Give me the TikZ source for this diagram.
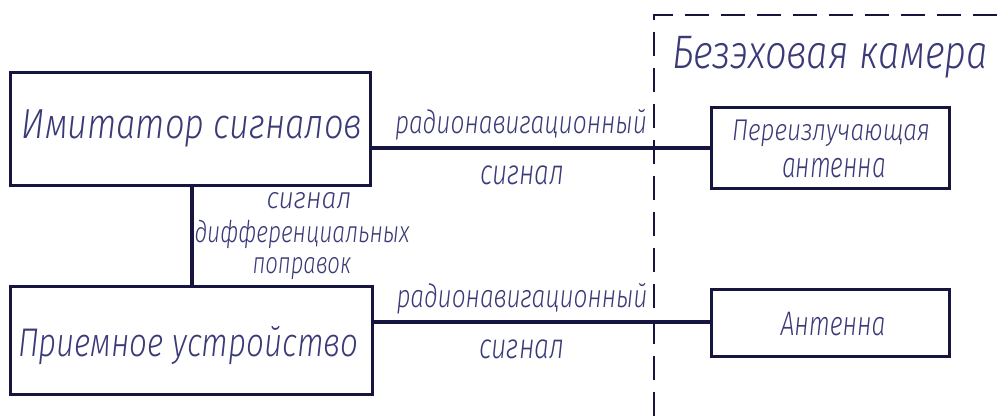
\documentclass[tikz,border=0pt]{standalone}
\usepackage{fontspec}
\usepackage{graphicx}
\setmainfont{Fira Sans}[UprightFont=* Light, ItalicFont=* Light Italic]
\definecolor{inkline}{HTML}{15153F}
\definecolor{inktext}{HTML}{3A3A78}
\newsavebox\fitbox
\newcommand\fitw[3]{\sbox\fitbox{\fontsize{#1pt}{#1pt}\selectfont\itshape #3}\pgfmathsetmacro\fx{#2/\wd\fitbox}\scalebox{\fx}[1]{\usebox\fitbox}}
\begin{document}
\begin{tikzpicture}[x=1pt,y=-1pt,
  blk/.style={draw=inkline,line width=3pt,minimum height=0pt,inner sep=0pt},
  conn/.style={draw=inkline,line width=3.2pt},
  txt/.style={text=inktext,inner sep=0pt,anchor=base},
  wall/.style={draw=inkline,line width=2.8pt,dash pattern=on 24pt off 12pt}]
\useasboundingbox (0,0) rectangle (1003,416);
% blocks
\node[blk,minimum width=360pt,minimum height=113pt] (imit) at (190,128.5) {};
\node[blk,minimum width=362pt,minimum height=108pt] (recv) at (191,340) {};
\node[blk,minimum width=238pt,minimum height=81pt] (reant) at (830,147.5) {};
\node[blk,minimum width=238pt,minimum height=67pt] (ant) at (830,322.5) {};
% chamber wall
\coordinate (wb) at (654,416);
\coordinate (wc) at (654,15);
\coordinate (wr) at (1003,15);
\draw[wall] (wb) -- (wc) -- (wr);
% connectors
\draw[conn] (imit.east |- 0,148) -- (reant.west |- 0,148);
\draw[conn] (recv.east |- 0,322) -- (ant.west |- 0,322);
\draw[conn] (imit.south -| 192,0) -- (recv.north -| 192,0);
% texts
\node[txt] (t1) at (192,138) {\fitw{42}{340}{Имитатор сигналов}};
\node[txt] (t2) at (188,356) {\fitw{40}{340}{Приемное устройство}};
\node[txt] (t3) at (830,68) {\fitw{47}{316}{Безэховая камера}};
\node[txt] (t4) at (831,140) {\fitw{30}{198}{Переизлучающая}};
\node[txt] (t5) at (834,177) {\fitw{36}{104}{антенна}};
\node[txt] (t6) at (833,335) {\fitw{34}{105}{Антенна}};
\node[txt] (l1) at (521,133) {\fitw{32}{252}{радионавигационный}};
\node[txt] (l2) at (522,184) {\fitw{35}{84}{сигнал}};
\node[txt] (l3) at (522,307) {\fitw{32}{251}{радионавигационный}};
\node[txt] (l4) at (522,358) {\fitw{35}{85}{сигнал}};
\node[txt] (d1) at (309,208) {\fitw{30}{85}{сигнал}};
\node[txt] (d2) at (302,242) {\fitw{30}{215}{дифференциальных}};
\node[txt] (d3) at (302,273) {\fitw{30}{99}{поправок}};
\end{tikzpicture}
\end{document}
